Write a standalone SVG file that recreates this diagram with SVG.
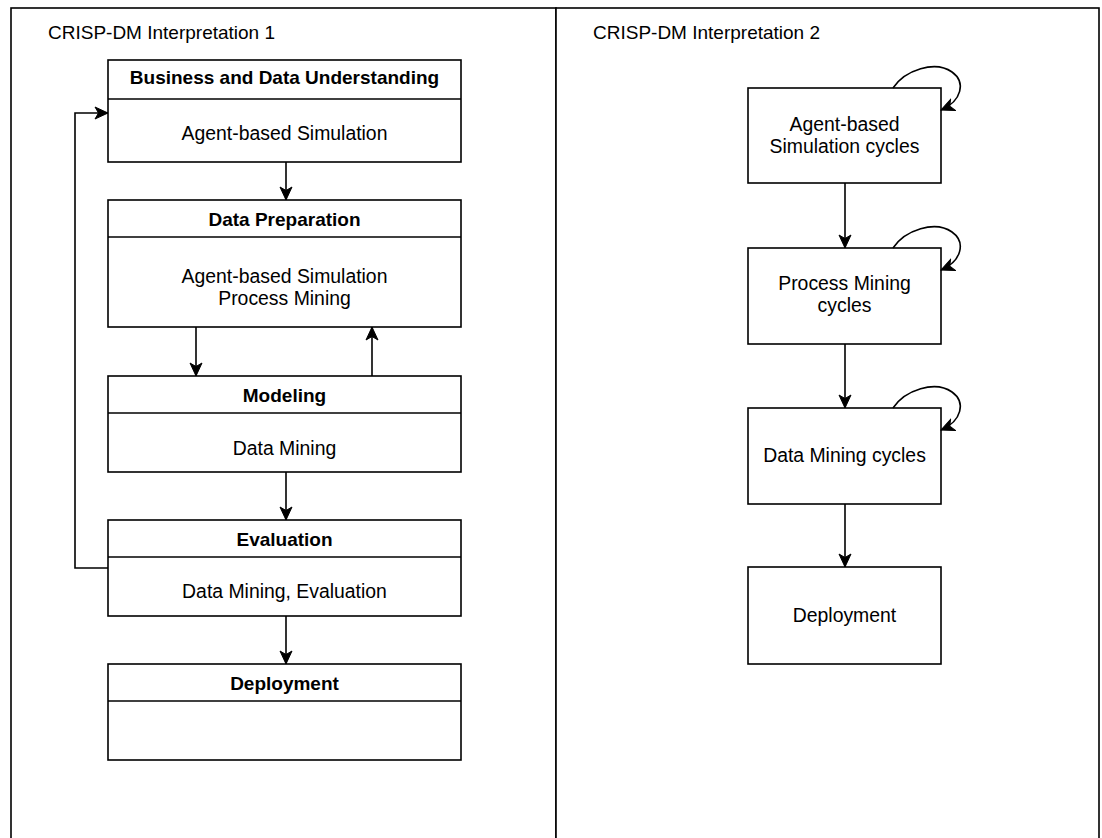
<svg xmlns="http://www.w3.org/2000/svg" width="1102" height="838" viewBox="0 0 1102 838">
  <style>
    .frame { fill: #ffffff; stroke: #000000; stroke-width: 1.6; }
    .box { fill: #ffffff; stroke: #000000; stroke-width: 1.6; }
    .div { stroke: #000000; stroke-width: 1.6; fill: none; }
    .edge { fill: none; stroke: #000000; stroke-width: 1.6; marker-end: url(#arrow); }
    .t { font-family: "Liberation Sans", Arial, Helvetica, sans-serif; font-size: 19.4px; fill: #000000; }
    .title { font-size: 19px; }
    .c { text-anchor: middle; }
    .b { font-weight: bold; font-size: 19px; }
  </style>
  <defs>
    <marker id="arrow" viewBox="-14 -7 15 14" refX="0" refY="0" markerWidth="15" markerHeight="14" markerUnits="userSpaceOnUse" orient="auto">
      <path d="M-13,-6 L0,0 L-13,6 L-9.5,0 Z" fill="#000000" stroke="#000000" stroke-width="1"/>
    </marker>
  </defs>

  <!-- panels -->
  <g id="panel-1">
    <rect class="frame" x="11" y="8" width="545" height="900"/>
    <text class="t title" x="48" y="38.5">CRISP-DM Interpretation 1</text>
  </g>
  <g id="panel-2">
    <rect class="frame" x="556" y="8" width="543" height="900"/>
    <text class="t title" x="593" y="38.5">CRISP-DM Interpretation 2</text>
  </g>

  <!-- interpretation 1: phase boxes -->
  <g id="business-data-understanding">
    <rect class="box" x="108" y="60" width="353" height="102"/>
    <line class="div" x1="108" y1="99" x2="461" y2="99"/>
    <text class="t c b" x="284.5" y="84">Business and Data Understanding</text>
    <text class="t c" x="284.5" y="140">Agent-based Simulation</text>
  </g>
  <g id="data-preparation">
    <rect class="box" x="108" y="200" width="353" height="127"/>
    <line class="div" x1="108" y1="237" x2="461" y2="237"/>
    <text class="t c b" x="284.5" y="225.5">Data Preparation</text>
    <text class="t c" x="284.5" y="283">Agent-based Simulation</text>
    <text class="t c" x="284.5" y="305">Process Mining</text>
  </g>
  <g id="modeling">
    <rect class="box" x="108" y="376" width="353" height="96"/>
    <line class="div" x1="108" y1="413" x2="461" y2="413"/>
    <text class="t c b" x="284.5" y="401.5">Modeling</text>
    <text class="t c" x="284.5" y="455">Data Mining</text>
  </g>
  <g id="evaluation">
    <rect class="box" x="108" y="520" width="353" height="96"/>
    <line class="div" x1="108" y1="557" x2="461" y2="557"/>
    <text class="t c b" x="284.5" y="545.5">Evaluation</text>
    <text class="t c" x="284.5" y="598">Data Mining, Evaluation</text>
  </g>
  <g id="deployment-1">
    <rect class="box" x="108" y="664" width="353" height="96"/>
    <line class="div" x1="108" y1="701" x2="461" y2="701"/>
    <text class="t c b" x="284.5" y="690">Deployment</text>
  </g>

  <!-- interpretation 2: cycle boxes -->
  <g id="abs-cycles">
    <rect class="box" x="748" y="88" width="193" height="95"/>
    <text class="t c" x="844.5" y="131">Agent-based</text>
    <text class="t c" x="844.5" y="153">Simulation cycles</text>
  </g>
  <g id="pm-cycles">
    <rect class="box" x="748" y="248" width="193" height="96"/>
    <text class="t c" x="844.5" y="290">Process Mining</text>
    <text class="t c" x="844.5" y="312">cycles</text>
  </g>
  <g id="dm-cycles">
    <rect class="box" x="748" y="408" width="193" height="96"/>
    <text class="t c" x="844.5" y="462">Data Mining cycles</text>
  </g>
  <g id="deployment-2">
    <rect class="box" x="748" y="567" width="193" height="97"/>
    <text class="t c" x="844.5" y="622">Deployment</text>
  </g>

  <!-- connectors -->
  <g id="connectors">
    <path class="edge" d="M286,162 V200"/>
    <path class="edge" d="M196,327 V376"/>
    <path class="edge" d="M372,376 V327"/>
    <path class="edge" d="M286,472 V520"/>
    <path class="edge" d="M286,616 V664"/>
    <path class="edge" d="M108,568 H75 V113 H108"/>

    <path class="edge" d="M845,183 V248"/>
    <path class="edge" d="M845,344 V408"/>
    <path class="edge" d="M845,504 V567"/>

    <path class="edge" d="M893,88 C905,70 935,60 952,72 C966,82 962,101 941,110"/>
    <path class="edge" d="M893,248 C905,230 935,220 952,232 C966,242 962,261 941,270"/>
    <path class="edge" d="M893,408 C905,390 935,380 952,392 C966,402 962,421 941,430"/>
  </g>
</svg>
